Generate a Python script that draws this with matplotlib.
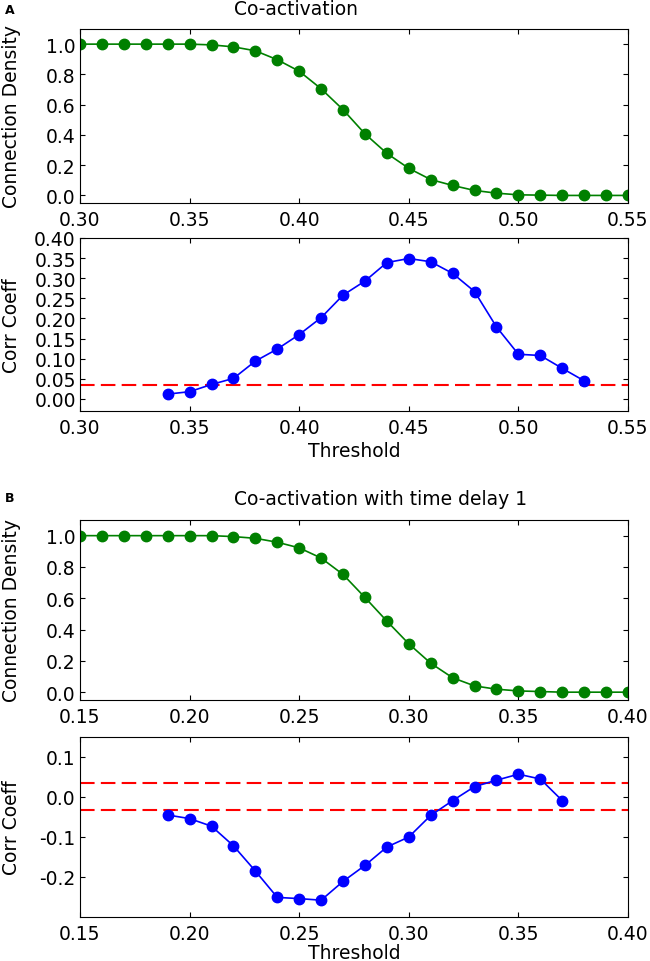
from matplotlib import pyplot as plt
import numpy as np

# ---- data ----
# panel A: co-activation
thr_a = np.round(np.arange(0.30, 0.5501, 0.01), 2)
density_a = [1.0, 1.0, 1.0, 1.0, 1.0, 1.0, 0.995, 0.982, 0.956, 0.897,
             0.821, 0.705, 0.567, 0.407, 0.278, 0.179, 0.105, 0.066,
             0.033, 0.015, 0.004, 0.002, 0.0, 0.0, 0.0, 0.0]
thr_a_corr = np.round(np.arange(0.34, 0.5301, 0.01), 2)
corr_a = [0.012, 0.018, 0.036, 0.051, 0.094, 0.124, 0.160, 0.202, 0.258,
          0.293, 0.339, 0.349, 0.341, 0.312, 0.267, 0.179, 0.111, 0.108,
          0.076, 0.045]
sig_a = [0.0355]

# panel B: co-activation with time delay 1
thr_b = np.round(np.arange(0.15, 0.4001, 0.01), 2)
density_b = [1.0, 1.0, 1.0, 1.0, 1.0, 1.0, 1.0, 0.994, 0.983, 0.958,
             0.922, 0.857, 0.752, 0.605, 0.454, 0.309, 0.185, 0.092,
             0.040, 0.019, 0.008, 0.004, 0.0, 0.0, 0.0, 0.0]
thr_b_corr = np.round(np.arange(0.19, 0.3701, 0.01), 2)
corr_b = [-0.045, -0.054, -0.073, -0.122, -0.185, -0.251, -0.254, -0.258,
          -0.211, -0.171, -0.125, -0.100, -0.046, -0.009, 0.026, 0.042,
          0.057, 0.045, -0.009]
sig_b = [0.034, -0.033]

plt.rcParams['font.size'] = 13.5
plt.rcParams['xtick.direction'] = 'in'
plt.rcParams['ytick.direction'] = 'in'
plt.rcParams['xtick.top'] = True
plt.rcParams['ytick.right'] = True
plt.rcParams['xtick.major.pad'] = 5
plt.rcParams['ytick.major.pad'] = 3

fig = plt.figure(figsize=(6.5, 9.62), dpi=100)
W, H = 650.0, 962.0
left, width = 80 / W, 548 / W


def make_ax(top, bottom):
    return fig.add_axes([left, 1 - bottom / H, width, (bottom - top) / H])


green = (0, 0.5, 0)
blue = (0, 0, 1)


def density_plot(ax, x, y, xlim, xticks):
    ax.plot(x, y, '-o', color=green, lw=1.2, ms=7.5)
    ax.set_xlim(xlim)
    ax.set_ylim(-0.05, 1.1)
    ax.set_xticks(xticks)
    ax.set_yticks([0.0, 0.2, 0.4, 0.6, 0.8, 1.0])
    ax.xaxis.set_major_formatter(plt.FormatStrFormatter('%.2f'))
    ax.yaxis.set_major_formatter(plt.FormatStrFormatter('%.1f'))
    ax.set_ylabel('Connection Density')
    ax.get_yaxis().set_label_coords(-0.108, 0.5)


def corr_plot(ax, x, y, lines, xlim, xticks, pad=3):
    ax.plot(x, y, '-o', color=blue, lw=1.2, ms=7.5, zorder=3)
    for v in lines:
        ax.axhline(v, color='r', lw=1.5, dashes=(7, 3), zorder=2)
    ax.set_xlim(xlim)
    ax.set_xticks(xticks)
    ax.xaxis.set_major_formatter(plt.FormatStrFormatter('%.2f'))
    ax.set_ylabel('Corr Coeff')
    ax.get_yaxis().set_label_coords(-0.108, 0.5)
    ax.set_xlabel('Threshold', labelpad=pad)


# ---- panel A ----
ax1 = make_ax(30, 204)
density_plot(ax1, thr_a, density_a, (0.30, 0.55), [0.30, 0.35, 0.40, 0.45, 0.50, 0.55])

ax2 = make_ax(239, 412)
corr_plot(ax2, thr_a_corr, corr_a, sig_a, (0.30, 0.55), [0.30, 0.35, 0.40, 0.45, 0.50, 0.55])
ax2.set_ylim(-0.03, 0.40)
ax2.set_yticks(np.round(np.arange(0.0, 0.4001, 0.05), 2))
ax2.yaxis.set_major_formatter(plt.FormatStrFormatter('%.2f'))

# ---- panel B ----
ax3 = make_ax(521, 701)
density_plot(ax3, thr_b, density_b, (0.15, 0.40), [0.15, 0.20, 0.25, 0.30, 0.35, 0.40])

ax4 = make_ax(738, 918)
corr_plot(ax4, thr_b_corr, corr_b, sig_b, (0.15, 0.40), [0.15, 0.20, 0.25, 0.30, 0.35, 0.40], pad=0)
ax4.set_ylim(-0.3, 0.15)
ax4.set_yticks([-0.2, -0.1, 0.0, 0.1])
ax4.yaxis.set_major_formatter(plt.FormatStrFormatter('%.1f'))

# titles (left aligned at the same x in the original) and panel letters
fig.text(234 / W, 1 - 15 / H, 'Co-activation', fontsize=13.5, ha='left', va='baseline')
fig.text(234 / W, 1 - 505 / H, 'Co-activation with time delay 1', fontsize=13.5,
         ha='left', va='baseline')
fig.text(5 / W, 1 - 11 / H, 'A', fontsize=9, fontweight='bold', va='center')
fig.text(5 / W, 1 - 499 / H, 'B', fontsize=9, fontweight='bold', va='center')

plt.savefig('out.png', dpi=100)
